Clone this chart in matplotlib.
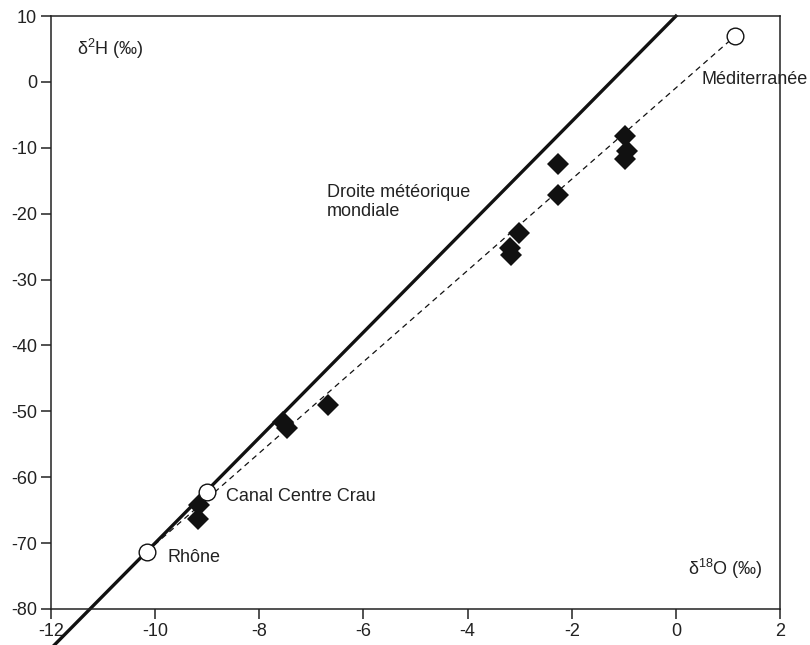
import matplotlib.pyplot as plt

plt.rcParams['font.family'] = ['Liberation Sans', 'DejaVu Sans']
plt.rcParams['axes.unicode_minus'] = False
plt.rcParams['mathtext.fontset'] = 'custom'
plt.rcParams['mathtext.rm'] = 'Liberation Sans'
plt.rcParams['mathtext.default'] = 'regular'

# droite météorique mondiale (d2H = 8 d18O + 10)
gmwl_x = [-12, 0]
gmwl_y = [-86, 10]

# pôles de mélange (cercles blancs)
pole_names = ['Rhône', 'Canal Centre Crau', 'Méditerranée']
pole_o18 = [-10.16, -9.01, 1.14]
pole_h2 = [-71.3, -62.2, 7.0]

# échantillons (losanges noirs)
samp_o18 = [-9.16, -9.18, -7.55, -7.47, -6.68, -3.18, -3.17, -3.01,
            -2.26, -2.26, -0.98, -0.94, -0.97]
samp_h2 = [-64.2, -66.4, -51.6, -52.5, -49.0, -25.2, -26.2, -22.9,
           -12.5, -17.2, -8.2, -10.5, -11.7]

fig = plt.figure(figsize=(8.1, 6.45), dpi=100)
ax = fig.add_axes([0.063, 0.056, 0.9, 0.919])

ax.plot(gmwl_x, gmwl_y, color='#111111', lw=2.4, clip_on=False, zorder=2)
ax.plot([pole_o18[0], pole_o18[2]], [pole_h2[0], pole_h2[2]], color='#111111',
        lw=0.9, dashes=(4.5, 3.5), zorder=2)
ax.plot(samp_o18, samp_h2, 'D', color='#111111', ms=11, mew=0, zorder=3)
ax.plot(pole_o18, pole_h2, 'o', mfc='white', mec='#111111', mew=1.0, ms=12,
        zorder=4, clip_on=False)

ax.set_xlim(-12, 2)
ax.set_ylim(-80, 10)
ax.set_xticks(range(-12, 3, 2))
ax.set_yticks(range(-80, 11, 10))
ax.tick_params(direction='out', length=7, width=1.1, labelsize=13,
               colors='#222222', pad=3)
for s in ax.spines.values():
    s.set_linewidth(1.1)
    s.set_color('#222222')

txt = dict(fontsize=13, color='#222222')
ax.text(-9.77, -72.2, pole_names[0], ha='left', va='center', **txt)
ax.text(-8.64, -63.0, pole_names[1], ha='left', va='center', **txt)
ax.text(0.50, 0.4, pole_names[2], ha='left', va='center', clip_on=False, **txt)
ax.text(-6.70, -18.2, 'Droite météorique\nmondiale', ha='left', va='center',
        linespacing=1.1, **txt)
ax.text(-11.5, 5.0, 'δ$^{2}$H (‰)', ha='left', va='center', **txt)
ax.text(0.23, -73.9, 'δ$^{18}$O (‰)', ha='left', va='center', **txt)

fig.savefig('out.png', dpi=100)
